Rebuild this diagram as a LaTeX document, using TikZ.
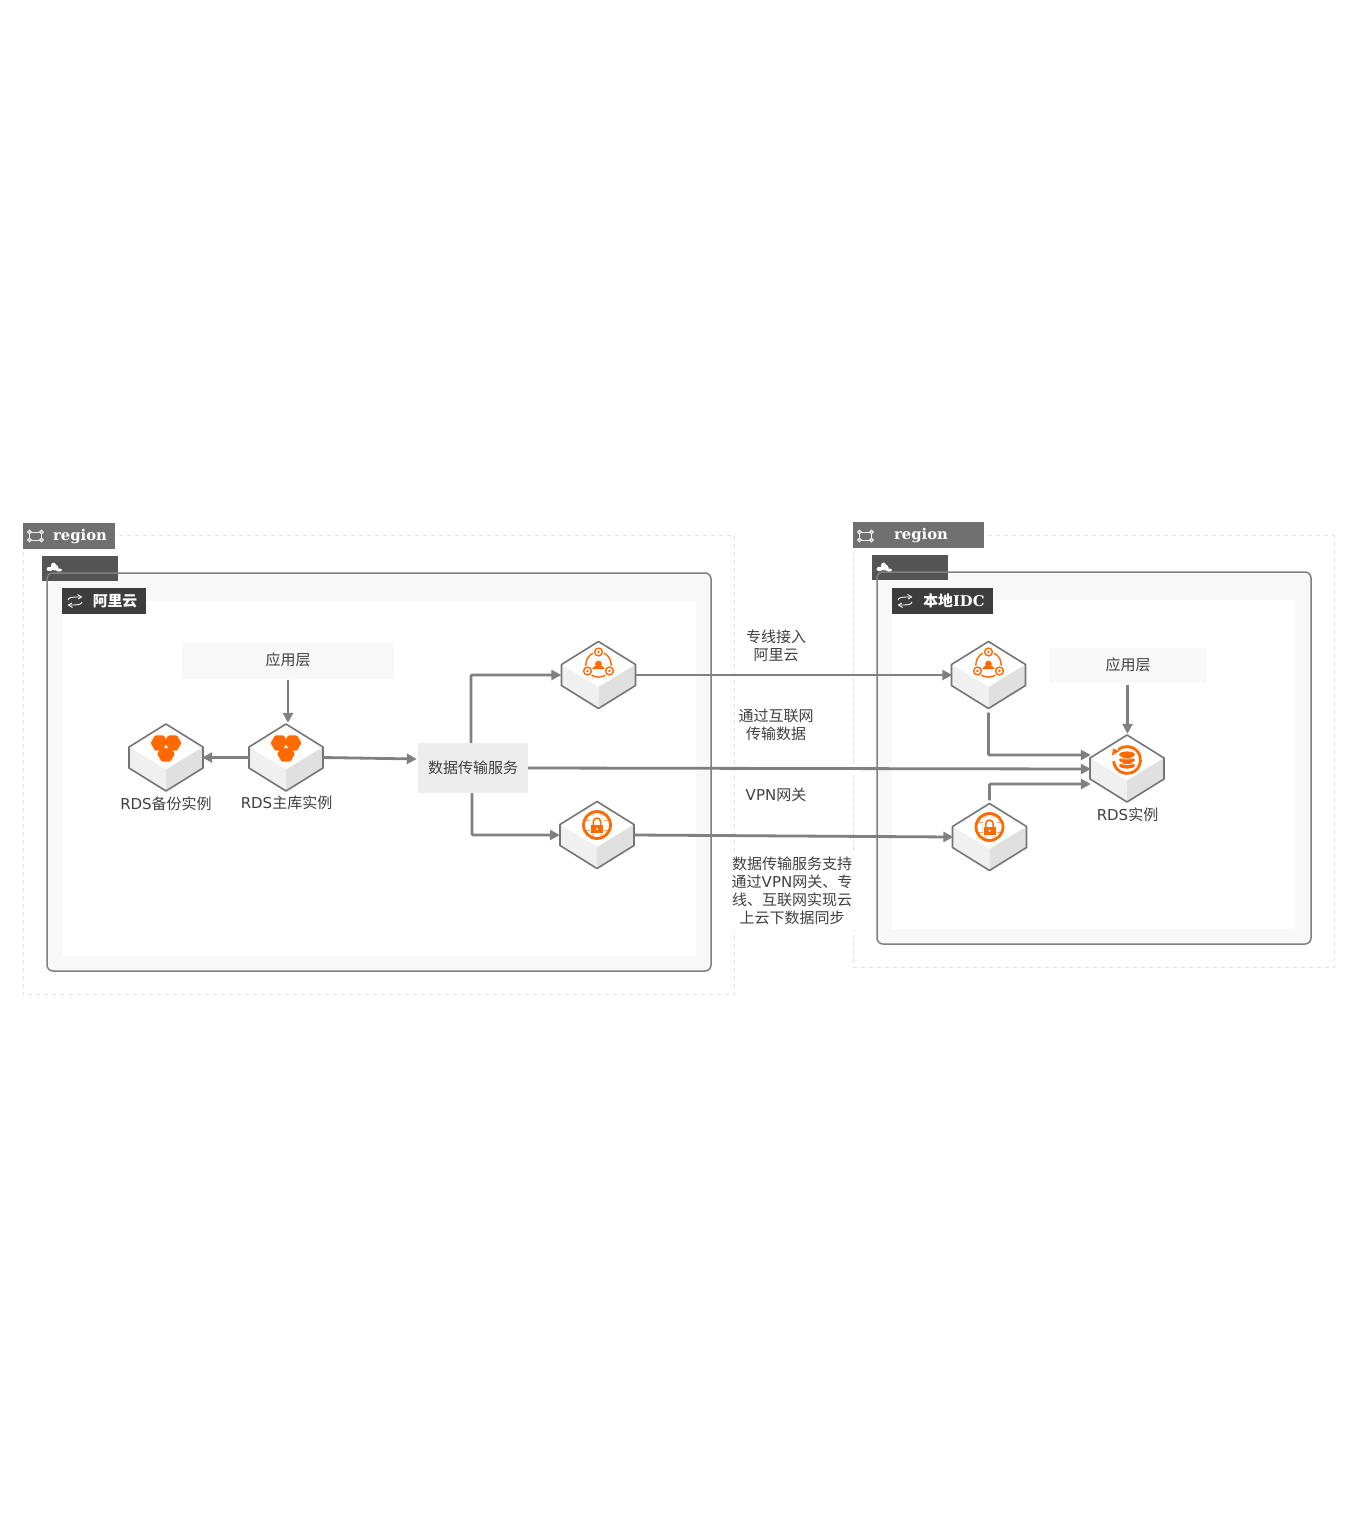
\documentclass[tikz,border=0pt]{standalone}
\usepackage{fontspec}
\setmainfont{DejaVu Sans}
\newfontfamily\cjk{Noto Sans CJK SC}
\newfontfamily\tagserif{DejaVu Serif}
\usetikzlibrary{arrows.meta,calc}
\definecolor{edgegray}{HTML}{808080}
\definecolor{cubeline}{HTML}{757575}
\definecolor{aliorange}{HTML}{FF6A00}
\definecolor{panelgray}{HTML}{F8F8F8}
\definecolor{dashgray}{HTML}{E2E2E2}
\definecolor{txtgray}{HTML}{404040}
\newcommand\zh[1]{{\cjk #1}}
\tikzset{
  conn/.style={draw=edgegray,line width=2.8pt,-{Triangle[length=10pt,width=10pt]}},
  lab/.style={font=\fontsize{15}{18}\selectfont,text=txtgray,align=center,inner sep=0pt},
  boxlab/.style={lab,rectangle,inner sep=0pt},
  tagtxt/.style={text=white,inner sep=0pt,font=\fontsize{14.8}{18}\selectfont\tagserif\bfseries},
  cubebox/.style={rectangle,minimum width=74pt,minimum height=67pt,inner sep=0pt},
  regionframe/.style={draw=dashgray,line width=1pt,dash pattern=on 4pt off 4pt},
  mainframe/.style={draw=edgegray,line width=1.5pt,rounded corners=6pt},
  iconl/.style={draw=aliorange,line width=1.4pt},
  pics/cubeshape/.style={code={
    \fill[white] (0,-33.5) -- (37,-10.5) -- (0,12) -- (-37,-10.5) -- cycle;
    \fill[black!6] (-37,-10.5) -- (0,12) -- (0,33.5) -- (-37,10.5) -- cycle;
    \fill[black!12] (37,-10.5) -- (0,12) -- (0,33.5) -- (37,10.5) -- cycle;
    \draw[cubeline,line width=1.6pt,line join=round] (0,-33.5) -- (37,-10.5) -- (37,10.5) -- (0,33.5) -- (-37,10.5) -- (-37,-10.5) -- cycle;
  }},
  pics/hexicon/.style={code={
    \foreach \cx/\cy in {-6.6/-14.5,6.6/-14.5,0/-3.5}{
      \fill[aliorange,rounded corners=1pt,shift={(\cx,\cy)}] (0:8.8) -- (60:8.8) -- (120:8.8) -- (180:8.8) -- (240:8.8) -- (300:8.8) -- cycle;
    }
    \fill[white] (0,-13) -- (2,-9.5) -- (-2,-9.5) -- cycle;
  }},
  pics/expressicon/.style={code={
    \draw[iconl] (0,-10.5) circle (12.7);
    \fill[aliorange] (0,-11) circle (3.4);
    \fill[aliorange] (-7,-6) .. controls (-3,-11) and (3,-11) .. (7,-6) -- cycle;
    \foreach \cx/\cy in {0/-23,-11/-4,11/-4}{
      \draw[white,line width=1.2pt] (\cx,\cy) circle (5.2);
      \draw[iconl,fill=white] (\cx,\cy) circle (3.9);
      \fill[aliorange] (\cx,\cy) circle (1.3);
    }
  }},
  pics/vpnicon/.style={code={
    \draw[aliorange!60,line width=.8pt] (0,-10) ellipse (6.5 and 13.5);
    \draw[aliorange!60,line width=.8pt] (-13,-15) -- (13,-15) (-13,-5) -- (13,-5);
    \fill[white] (-7,-19) rectangle (7,-1);
    \draw[aliorange,line width=2.8pt] (0,-10) circle (13.5);
    \draw[aliorange,line width=1.5pt] (-3.6,-10) -- (-3.6,-13.5) .. controls (-3.6,-18) and (3.6,-18) .. (3.6,-13.5) -- (3.6,-10);
    \fill[aliorange] (-6,-10) rectangle (6,-2.5);
    \fill[white] (0,-6.2) circle (1.2);
  }},
  pics/dbicon/.style={code={
    \draw[aliorange,line width=2.8pt] (0,-8.5) ++(-130:13.5) arc[start angle=-130,end angle=175,radius=13.5];
    \fill[aliorange] (-15,-13) -- (-7.5,-17.5) -- (-14,-20) -- cycle;
    \foreach \cy in {-3,-8.5,-14}{
      \fill[aliorange] (0,\cy) ellipse (7.8 and 3.1);
    }
    \foreach \cy in {-3,-8.5}{
      \draw[white,line width=.7pt] (-7.8,\cy-2.6) .. controls (-4,\cy-.4) and (4,\cy-.4) .. (7.8,\cy-2.6);
    }
  }},
  pics/regionicon/.style={code={
    \draw[black!8,line width=1pt] (-6,-4) rectangle (6,4);
    \foreach \cx/\cy in {-6/-4,6/-4,-6/4,6/4}{\draw[black!8,line width=1pt,fill=white!40!gray] (\cx,\cy) circle (1.9);}
  }},
  pics/cloudicon/.style={code={
    \fill[white] (-5,1) ellipse (3 and 2.2) (0,-.5) ellipse (4 and 3) (4.5,2) ellipse (3 and 1.6);
    \fill[white] (-1,-3) circle (2.4);
  }},
  pics/swapicon/.style={code={
    \draw[white,line width=.9pt] (-7,-1) .. controls (-6,-4) and (-3,-4) .. (6,-4);
    \draw[white,line width=.9pt] (2.5,-6.5) -- (6.5,-4) -- (3,-2);
    \draw[white,line width=.9pt] (7,1) .. controls (6,4) and (3,4) .. (-6,4);
    \draw[white,line width=.9pt] (-2.5,6.5) -- (-6.5,4) -- (-3,2);
  }},
}
\newcommand\cubeat[3]{\pic at (#2,#3) {cubeshape}; \node[cubebox] (#1) at (#2,#3) {};}
\begin{document}
\begin{tikzpicture}[x=1pt,y=-1pt]
\useasboundingbox (0,0) rectangle (1360,1520);
\fill[white] (0,0) rectangle (1360,1520);

% left region
\draw[regionframe] (23,535.5) rectangle (734.5,994);
\fill[panelgray,rounded corners=6pt] (47,573) rectangle (711,971);
\fill[black!70,opacity=.95] (42,556) rectangle (118,581);
\fill[white] (62,601) rectangle (696,956);
\draw[mainframe] (47,573) rectangle (711,971);
\node[fill=black!56,minimum width=92pt,minimum height=26pt,inner sep=0pt] (regA) at (69,536) {};
\node[tagtxt] (regAt) at (80,537) {region};
\pic at (35.5,536) {regionicon};
\pic at (54.5,568) {cloudicon};
\node[fill=black!76,minimum width=84pt,minimum height=26pt,inner sep=0pt] (tagA) at (104,601) {};
\node[tagtxt] (tagAt) at (115,601) {\cjk\bfseries 阿里云};
\pic at (75,601) {swapicon};

% right region
\draw[regionframe] (853.5,535) rectangle (1334,967.5);
\fill[panelgray,rounded corners=6pt] (877,572) rectangle (1311,944);
\fill[black!70,opacity=.95] (872,555) rectangle (948,580);
\fill[white] (892,600) rectangle (1295,929);
\draw[mainframe] (877,572) rectangle (1311,944);
\node[fill=black!56,minimum width=131pt,minimum height=26pt,inner sep=0pt] (regB) at (918.5,535) {};
\node[tagtxt] (regBt) at (921,535.5) {region};
\pic at (865.5,536) {regionicon};
\pic at (884.5,568) {cloudicon};
\node[fill=black!76,minimum width=101pt,minimum height=26pt,inner sep=0pt] (tagB) at (942.5,600.5) {};
\node[tagtxt] (tagBt) at (954,601) {\zh{\bfseries 本地}IDC};
\pic at (905,601) {swapicon};

% boxes
\node[fill=panelgray,minimum width=212pt,minimum height=37pt,boxlab] (appA) at (288,660) {\zh{应用层}};
\node[fill=panelgray,minimum width=156pt,minimum height=35pt,boxlab] (appB) at (1128,665) {\zh{应用层}};
\node[fill=black!7,minimum width=110pt,minimum height=50pt,boxlab] (dts) at (473,768) {\zh{数据传输服务}};

% cubes
\cubeat{backup}{166}{757.5}
\cubeat{primary}{286}{757.5}
\cubeat{expA}{598.5}{675}
\cubeat{vpnA}{597}{835}
\cubeat{expB}{988.5}{675}
\cubeat{vpnB}{989.5}{837}
\cubeat{rds}{1127}{768.5}
\pic at (backup.center) {hexicon};
\pic at (primary.center) {hexicon};
\pic at (expA.center) {expressicon};
\pic at (expB.center) {expressicon};
\pic at (vpnA.center) {vpnicon};
\pic at (vpnB.center) {vpnicon};
\pic at (rds.center) {dbicon};

% cube captions
\node[lab] (capBackup) at (166,804) {RDS\zh{备份实例}};
\node[lab] (capPrimary) at (286.5,803) {RDS\zh{主库实例}};
\node[lab] (capRds) at (1127.5,815) {RDS\zh{实例}};

% connector ends
\coordinate (dtsIn) at ($(dts.west)+(-1,-9)$);
\coordinate (rdsInTop) at ($(rds.west)+(1,-13.5)$);
\coordinate (rdsInMid) at ($(rds.west)+(1,0.5)$);
\coordinate (rdsInLow) at ($(rds.west)+(1,15.5)$);

% connectors
\draw[conn] ([yshift=-1pt]appA.south) -- ([yshift=1pt,xshift=2pt]primary.north);
\draw[conn] (primary.west) -- ([xshift=-1pt]backup.east);
\draw[conn] (primary.east) -- (dtsIn);
\draw[conn,rounded corners=1pt] ([xshift=-2pt]dts.north) |- (expA.west);
\draw[conn,rounded corners=1pt] ([xshift=-1pt]dts.south) |- (vpnA.west);
\draw[conn] (expA.east) -- ([xshift=1pt]expB.west);
\draw[conn] (vpnA.east) -- ([xshift=1pt]vpnB.west);
\draw[conn] (dts.east) -- (rdsInMid);
\draw[conn,rounded corners=1pt] ([yshift=-4pt]expB.south) |- (rdsInTop);
\draw[conn,rounded corners=1pt] ([yshift=3pt]vpnB.north) |- (rdsInLow);
\draw[conn] ([yshift=-2pt,xshift=-0.5pt]appB.south) -- ([yshift=1pt,xshift=0.5pt]rds.north);

% notes
\node[lab] (noteA) at (776,646) {\zh{专线接入}\\\zh{阿里云}};
\node[lab] (noteB) at (776,725) {\zh{通过互联网}\\\zh{传输数据}};
\node[lab] (noteC) at (776,795) {VPN\zh{网关}};
\node[lab,fill=white,minimum width=124pt,minimum height=78pt] (noteD) at (792,891) {\zh{数据传输服务支持}\\\zh{通过}VPN\zh{网关、专}\\\zh{线、互联网实现云}\\\zh{上云下数据同步}};
\end{tikzpicture}
\end{document}
